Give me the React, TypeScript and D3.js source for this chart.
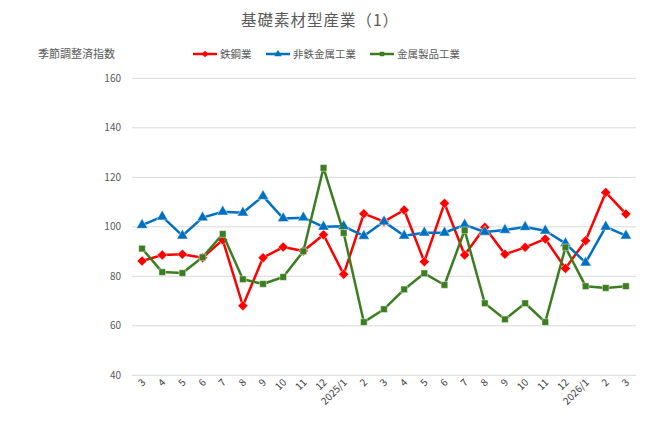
import React, { useEffect, useRef } from 'react';
import * as d3 from 'd3';

const months = ['3', '4', '5', '6', '7', '8', '9', '10', '11', '12', '2025/1', '2', '3', '4', '5', '6', '7', '8', '9', '10', '11', '12', '2026/1', '2', '3'];
const steel = [86.2, 88.6, 88.9, 87.5, 94.7, 68.1, 87.5, 91.8, 90.2, 96.8, 80.8, 105.3, 102.1, 106.8, 85.9, 109.5, 88.6, 99.8, 88.9, 91.7, 95.1, 83.2, 94.4, 113.9, 105.2];
const nonFerrous = [100.7, 104.1, 96.4, 103.7, 106.1, 105.7, 112.4, 103.4, 103.7, 100.0, 100.2, 96.3, 102.1, 96.4, 97.6, 97.6, 100.8, 97.9, 98.7, 99.9, 98.4, 93.3, 85.5, 100.0, 96.4];
const metalProducts = [91.2, 81.7, 81.3, 87.7, 97.1, 78.8, 76.9, 79.7, 90.1, 123.8, 97.5, 61.5, 66.7, 74.7, 81.2, 76.5, 98.6, 69.1, 62.6, 69.1, 61.5, 91.7, 76.0, 75.3, 76.0];
const yTicks = [40, 60, 80, 100, 120, 140, 160];

const seriesList = [
  { name: '鉄鋼業', values: steel, color: '#FF0000', symbol: d3.symbolDiamond2, size: 64 },
  { name: '非鉄金属工業', values: nonFerrous, color: '#0070C0', symbol: d3.symbolTriangle, size: 54 },
  { name: '金属製品工業', values: metalProducts, color: '#3C7D22', symbol: d3.symbolSquare, size: 44 },
];

const font = '"Noto Sans CJK JP", "Noto Sans", sans-serif';

const App: React.FC = () => {
  const svgRef = useRef<SVGSVGElement>(null);
  const width = 650;
  const height = 421;

  useEffect(() => {
    const svg = d3.select(svgRef.current);
    svg.selectAll('*').remove();

    const left = 132, right = 636, top = 78.3, bottom = 375.3;

    const x = d3.scalePoint<number>()
      .domain(d3.range(months.length))
      .range([left, right])
      .padding(0.5);

    const y = d3.scaleLinear().domain([40, 160]).range([bottom, top]);

    // title
    svg.append('text')
      .attr('x', 320)
      .attr('y', 26)
      .attr('text-anchor', 'middle')
      .attr('fill', '#595959')
      .style('font-size', '15.5px')
      .style('letter-spacing', '1px')
      .style('font-family', font)
      .text('基礎素材型産業（1）');

    svg.append('text')
      .attr('x', 38)
      .attr('y', 58)
      .attr('fill', '#595959')
      .style('font-size', '11px')
      .style('font-family', font)
      .text('季節調整済指数');

    // grid
    svg.append('g')
      .selectAll('line')
      .data(yTicks)
      .join('line')
      .attr('x1', left)
      .attr('x2', right)
      .attr('y1', d => y(d))
      .attr('y2', d => y(d))
      .attr('stroke', '#D9D9D9')
      .attr('stroke-width', 1);

    svg.append('g')
      .selectAll('text')
      .data(yTicks)
      .join('text')
      .attr('x', 121)
      .attr('y', d => y(d) + 3.5)
      .attr('text-anchor', 'end')
      .attr('fill', '#595959')
      .style('font-size', '10px')
      .style('font-family', font)
      .text(d => d);

    // x labels
    svg.append('g')
      .selectAll('text')
      .data(months)
      .join('text')
      .attr('transform', (d, i) => `translate(${x(i)! + 4},${383}) rotate(-45)`)
      .attr('text-anchor', 'end')
      .attr('fill', '#404040')
      .style('font-size', '10px')
      .style('font-family', font)
      .text(d => d);

    const line = d3.line<number>()
      .x((d, i) => x(i)!)
      .y(d => y(d));

    seriesList.forEach(s => {
      const g = svg.append('g');
      g.append('path')
        .datum(s.values)
        .attr('d', line)
        .attr('fill', 'none')
        .attr('stroke', s.color)
        .attr('stroke-width', 2.5)
        .attr('stroke-linejoin', 'round');

      g.selectAll('path.m')
        .data(s.values)
        .join('path')
        .attr('class', 'm')
        .attr('d', d3.symbol(s.symbol, s.size)())
        .attr('transform', (d, i) => `translate(${x(i)},${y(d)})`)
        .attr('fill', s.color)
        .attr('stroke', '#ffffff')
        .attr('stroke-opacity', 0.6)
        .attr('stroke-width', 0.75);
    });

    // legend
    const legendX = [193, 266, 370];
    seriesList.forEach((s, k) => {
      const lg = svg.append('g').attr('transform', `translate(${legendX[k]},54)`);
      lg.append('line')
        .attr('x1', 0)
        .attr('x2', 24)
        .attr('stroke', s.color)
        .attr('stroke-width', 2.5);
      lg.append('path')
        .attr('d', d3.symbol(s.symbol, s.size * 0.45)())
        .attr('transform', 'translate(12,0)')
        .attr('fill', s.color);
      lg.append('text')
        .attr('x', 27)
        .attr('y', 4)
        .attr('fill', '#595959')
        .style('font-size', '10.5px')
        .style('font-family', font)
        .text(s.name);
    });
  }, []);

  return (
    <div style={{ position: 'absolute', left: 0, top: 0 }}>
      <svg ref={svgRef} width={width} height={height} style={{ display: 'block', background: '#fff' }} />
    </div>
  );
};

export default App;
